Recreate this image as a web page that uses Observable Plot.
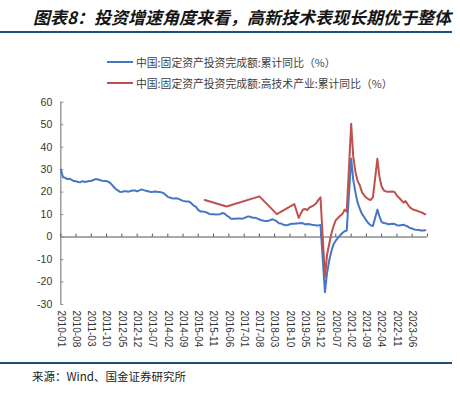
<!DOCTYPE html>
<html>
<head>
<meta charset="utf-8">
<script src="https://cdn.jsdelivr.net/npm/d3@7"></script>
<script src="https://cdn.jsdelivr.net/npm/@observablehq/plot@0.6"></script>
<style>
  html, body { margin: 0; padding: 0; background: #fff; }
  #wrap { position: relative; width: 460px; height: 398px; overflow: hidden; background: #fff; }
  #title { position: absolute; left: 33px; top: 4px; font-family: "Noto Sans CJK SC", sans-serif; font-size: 17px; font-weight: 700; font-style: italic; color: #151515; white-space: nowrap; letter-spacing: 0px; }
  .rule { position: absolute; left: 0; width: 452px; height: 2px; background: #1f4e79; }
  .leg { position: absolute; left: 107px; font-family: "Noto Sans CJK SC", sans-serif; font-size: 10.8px; color: #404040; white-space: nowrap; display: flex; align-items: center; }
  .leg .sw { display: inline-block; width: 26px; height: 2px; margin-right: 3px; }
  #caption { position: absolute; left: 32px; top: 368px; font-family: "Noto Sans CJK SC", sans-serif; font-size: 11.5px; color: #222; white-space: nowrap; }
  #chart { position: absolute; left: 0; top: 92px; }
</style>
</head>
<body>
<div id="wrap">
  <div id="title"></div>
  <div class="rule" style="top:31px"></div>
  <div class="leg" id="leg1" style="top:54px"></div>
  <div class="leg" id="leg2" style="top:75px"></div>
  <div id="chart"></div>
  <div class="rule" style="top:362px"></div>
  <div id="caption"></div>
</div>
<script>
// ---- text ----
const titleText = "图表8：投资增速角度来看，高新技术表现长期优于整体";
const seriesNames = ["中国:固定资产投资完成额:累计同比（%）", "中国:固定资产投资完成额:高技术产业:累计同比（%）"];
const seriesColors = ["#4677c5", "#c0504d"];
const captionText = "来源：Wind、国金证券研究所";

// ---- axes ----
const yTicks = [-30, -20, -10, 0, 10, 20, 30, 40, 50, 60];
const xTickLabels = ["2010-01","2010-08","2011-03","2011-10","2012-05","2012-12","2013-07","2014-02","2014-09","2015-04","2015-11","2016-06","2017-01","2017-08","2018-03","2018-10","2019-05","2019-12","2020-07","2021-02","2021-09","2022-04","2022-11","2023-06"];
const xDomainLabels = ["2010-01", "2024-01"];

// ---- series 1: FAI cumulative YoY ----
const blueMonths = [
"2010-01","2010-02","2010-03","2010-04","2010-05","2010-06","2010-07","2010-08","2010-09","2010-10","2010-11","2010-12",
"2011-02","2011-03","2011-04","2011-05","2011-06","2011-07","2011-08","2011-09","2011-10","2011-11","2011-12",
"2012-02","2012-03","2012-04","2012-05","2012-06","2012-07","2012-08","2012-09","2012-10","2012-11","2012-12",
"2013-02","2013-03","2013-04","2013-05","2013-06","2013-07","2013-08","2013-09","2013-10","2013-11","2013-12",
"2014-02","2014-03","2014-04","2014-05","2014-06","2014-07","2014-08","2014-09","2014-10","2014-11","2014-12",
"2015-02","2015-03","2015-04","2015-05","2015-06","2015-07","2015-08","2015-09","2015-10","2015-11","2015-12",
"2016-02","2016-03","2016-04","2016-05","2016-06","2016-07","2016-08","2016-09","2016-10","2016-11","2016-12",
"2017-02","2017-03","2017-04","2017-05","2017-06","2017-07","2017-08","2017-09","2017-10","2017-11","2017-12",
"2018-02","2018-03","2018-04","2018-05","2018-06","2018-07","2018-08","2018-09","2018-10","2018-11","2018-12",
"2019-02","2019-03","2019-04","2019-05","2019-06","2019-07","2019-08","2019-09","2019-10","2019-11","2019-12",
"2020-02","2020-03","2020-04","2020-05","2020-06","2020-07","2020-08","2020-09","2020-10","2020-11","2020-12",
"2021-02","2021-03","2021-04","2021-05","2021-06","2021-07","2021-08","2021-09","2021-10","2021-11","2021-12",
"2022-02","2022-03","2022-04","2022-05","2022-06","2022-07","2022-08","2022-09","2022-10","2022-11","2022-12",
"2023-02","2023-03","2023-04","2023-05","2023-06","2023-07","2023-08","2023-09","2023-10","2023-11","2023-12"
];
const blueValues = [
30.0,26.6,26.4,25.8,25.9,25.5,24.9,24.8,24.5,24.4,24.9,24.5,
24.9,25.0,25.4,25.8,25.6,25.4,25.0,24.9,24.9,24.5,23.8,
21.5,20.9,20.2,20.1,20.4,20.4,20.2,20.5,20.7,20.7,20.3,
21.2,20.9,20.6,20.4,20.1,20.1,20.3,20.2,20.1,19.9,19.6,
17.9,17.6,17.3,17.2,17.3,17.0,16.5,16.1,15.9,15.8,15.7,
13.9,13.5,12.0,11.4,11.4,11.2,10.9,10.3,10.2,10.2,10.0,
10.2,10.7,10.5,9.6,9.0,8.1,8.1,8.2,8.3,8.3,8.1,
8.9,9.2,8.9,8.6,8.6,8.3,7.8,7.5,7.3,7.2,7.2,
7.9,7.5,7.0,6.1,6.0,5.5,5.3,5.4,5.7,5.9,5.9,
6.1,6.3,6.1,5.6,5.8,5.7,5.5,5.4,5.2,5.2,5.4,
-24.5,-16.1,-10.3,-6.3,-3.1,-1.6,-0.3,0.8,1.8,2.6,2.9,
35.0,25.6,19.9,15.4,12.6,10.3,8.9,7.3,6.1,5.2,4.9,
12.2,9.3,6.8,6.2,6.1,5.7,5.8,5.9,5.8,5.3,5.1,
5.5,5.1,4.7,4.0,3.8,3.4,3.2,3.1,2.9,2.9,3.0
];

// ---- series 2: high-tech industry FAI cumulative YoY ----
const redMonths = [
"2015-07","2016-05","2017-08","2018-04","2018-12",
"2019-02","2019-03","2019-04","2019-05","2019-06","2019-07","2019-08","2019-09","2019-10","2019-11","2019-12",
"2020-02","2020-03","2020-04","2020-05","2020-06","2020-07","2020-08","2020-09","2020-10","2020-11","2020-12",
"2021-02","2021-03","2021-04","2021-05","2021-06","2021-07","2021-08","2021-09","2021-10","2021-11","2021-12",
"2022-02","2022-03","2022-04","2022-05","2022-06","2022-07","2022-08","2022-09","2022-10","2022-11","2022-12",
"2023-02","2023-03","2023-04","2023-05","2023-06","2023-07","2023-08","2023-09","2023-10","2023-11","2023-12"
];
const redValues = [
16.5,13.6,18.1,10.2,14.7,
8.5,10.5,12.3,12.5,12.0,13.2,13.6,14.2,15.0,16.5,17.7,
-17.7,-8.0,-3.0,1.5,5.0,7.5,8.5,9.5,10.2,12.2,11.3,
50.4,36.0,29.0,25.0,23.0,20.0,18.5,17.5,16.8,16.5,17.7,
34.8,27.0,22.5,20.8,20.3,20.2,20.2,20.3,20.0,18.4,17.5,
15.3,16.0,14.5,13.2,12.5,12.0,11.8,11.4,11.1,10.6,10.1
];

// ---- build ----
const parse = d3.utcParse("%Y-%m");
const fmt = d3.utcFormat("%Y-%m");
const blueData = blueMonths.map((m, i) => ({date: parse(m), value: blueValues[i]}));
const redData = redMonths.map((m, i) => ({date: parse(m), value: redValues[i]}));
const xTickDates = xTickLabels.map(parse);
const xDomain = xDomainLabels.map(parse);
const tickMarkDates = xTickDates.concat([xDomain[1]]);

document.getElementById("title").textContent = titleText;
document.getElementById("caption").textContent = captionText;
["leg1", "leg2"].forEach((id, i) => {
  const el = document.getElementById(id);
  const sw = document.createElement("span");
  sw.className = "sw";
  sw.style.background = seriesColors[i];
  const t = document.createElement("span");
  t.textContent = seriesNames[i];
  el.appendChild(sw);
  el.appendChild(t);
});

const axisGray = "#8c8c8c";
const chart = Plot.plot({
  width: 460,
  height: 270,
  marginTop: 9.7,
  marginBottom: 58,
  marginLeft: 60.3,
  marginRight: 33,
  style: {fontFamily: "'Liberation Sans', Arial, sans-serif", fontSize: "10px", color: "#333", background: "transparent", overflow: "visible"},
  x: {type: "utc", domain: xDomain, label: null},
  y: {domain: [-30, 60], label: null},
  marks: [
    Plot.axisY({ticks: yTicks, tickSize: 0, tickPadding: 8.5, fontSize: 10.5, tickFormat: d => String(d), label: null}),
    Plot.axisX({ticks: xTickDates, anchor: "bottom", tickSize: 0, tickPadding: 6, tickRotate: 90, tickFormat: fmt, label: null}),
    Plot.ruleX([xDomain[0]], {y1: -30, y2: 60, stroke: axisGray, strokeWidth: 1.3}),
    Plot.ruleY(yTicks, {x1: xDomain[0], x2: xDomain[0], insetRight: -3, stroke: axisGray, strokeWidth: 1}),
    Plot.ruleY([0], {stroke: axisGray, strokeWidth: 1.5}),
    Plot.ruleX(tickMarkDates, {y1: 0, y2: 0, insetTop: -3, stroke: "#555", strokeWidth: 1}),
    Plot.line(blueData, {x: "date", y: "value", stroke: seriesColors[0], strokeWidth: 2}),
    Plot.line(redData, {x: "date", y: "value", stroke: seriesColors[1], strokeWidth: 2})
  ]
});
document.getElementById("chart").appendChild(chart);
</script>
</body>
</html>
